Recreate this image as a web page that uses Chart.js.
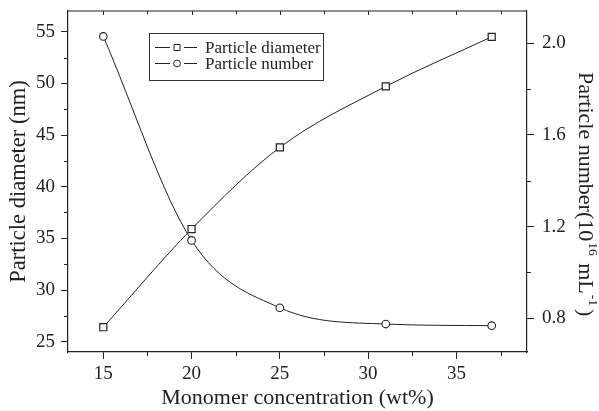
<!DOCTYPE html>
<html>
<head>
<meta charset="utf-8">
<script src="https://cdn.jsdelivr.net/npm/chart.js@4.4.1/dist/chart.umd.min.js"></script>
<style>
  html, body { margin: 0; padding: 0; background: #fff; }
  #wrap { width: 599px; height: 411px; }
</style>
</head>
<body>
<div id="wrap"><canvas id="grafik"></canvas></div>
<script>
// data
const concentration = [15, 20, 25, 31, 37];
const diameter = [26.4, 35.9, 43.8, 49.7, 54.5];
const particleNumber = [2.03, 1.14, 0.846, 0.775, 0.768];
const xTicks = [15, 20, 25, 30, 35];
const leftTicks = [25, 30, 35, 40, 45, 50, 55];
const rightTicks = [0.8, 1.2, 1.6, 2.0];
const seriesNames = ['Particle diameter', 'Particle number'];

const FONT = '"Liberation Serif", "Times New Roman", serif';
const INK = '#222';

function toPoints(xs, ys) {
    return xs.map(function(x, i) { return { x: x, y: ys[i] }; });
}

// keep the plot box fixed, no extra label padding
function noPad(s) {
    s.paddingTop = 0;
    s.paddingBottom = 0;
    s.paddingLeft = 0;
    s.paddingRight = 0;
}

// minor ticks, top border with inward ticks, boxed legend, right title
const decor = {
    id: 'decor',
    afterDraw: function(chart) {
        const ctx = chart.ctx;
        const a = chart.chartArea;
        const sx = chart.scales.x, sy = chart.scales.y, sy2 = chart.scales.y2;
        ctx.save();
        ctx.strokeStyle = INK;
        ctx.lineWidth = 1.2;
        // top border
        ctx.beginPath();
        ctx.moveTo(a.left, a.top);
        ctx.lineTo(a.right, a.top);
        ctx.stroke();
        ctx.lineWidth = 1;
        ctx.beginPath();
        // x minor ticks (bottom, outward) + all top ticks (inward)
        for (let v = 15; v <= 37.5; v += 2.5) {
            const px = Math.round(sx.getPixelForValue(v)) + 0.5;
            if (v % 5 !== 0) {
                ctx.moveTo(px, a.bottom);
                ctx.lineTo(px, a.bottom + 4);
            }
            ctx.moveTo(px, a.top);
            ctx.lineTo(px, a.top + (v % 5 === 0 ? 4 : 3));
        }
        // left minor ticks
        for (let v = 27.5; v < 57; v += 5) {
            const py = Math.round(sy.getPixelForValue(v)) + 0.5;
            ctx.moveTo(a.left, py);
            ctx.lineTo(a.left - 4, py);
        }
        // right minor ticks
        for (let v = 1.0; v < 2.1; v += 0.4) {
            const py = Math.round(sy2.getPixelForValue(v)) + 0.5;
            ctx.moveTo(a.right, py);
            ctx.lineTo(a.right + 4, py);
        }
        ctx.stroke();

        // legend box
        const bx = a.left + 81, by = a.top + 22, bw = 174, bh = 47;
        ctx.lineWidth = 1;
        ctx.strokeStyle = '#333';
        ctx.strokeRect(bx + 0.5, by + 0.5, bw, bh);
        ctx.font = '17px ' + FONT;
        ctx.textBaseline = 'middle';
        chart.data.datasets.forEach(function(ds, i) {
            const ly = by + 14 + i * 16 + 0.5;
            const mx = bx + 28;
            ctx.strokeStyle = INK;
            ctx.beginPath();
            ctx.moveTo(bx + 6, ly);
            ctx.lineTo(mx - 7, ly);
            ctx.moveTo(mx + 7, ly);
            ctx.lineTo(bx + 48, ly);
            ctx.stroke();
            ctx.fillStyle = '#fff';
            ctx.beginPath();
            if (ds.pointStyle === 'rect') {
                ctx.rect(mx - 3, ly - 3, 6, 6);
            } else {
                ctx.arc(mx, ly, 3.4, 0, Math.PI * 2);
            }
            ctx.fill();
            ctx.stroke();
            ctx.fillStyle = INK;
            ctx.fillText(seriesNames[i], bx + 56, ly + 1);
        });

        // right axis title with superscripts, rotated clockwise
        ctx.translate(a.right + 60, a.top + 61);
        ctx.rotate(Math.PI / 2);
        const parts = [
            ['Particle number(10', 0, 1],
            ['16', 1, 2],
            [' mL', 0, 1],
            ['-1', 1, 3],
            [')', 0, 0]
        ];
        let cx = 0;
        ctx.textBaseline = 'alphabetic';
        ctx.fillStyle = INK;
        parts.forEach(function(p) {
            ctx.font = (p[1] ? '13.5px ' : '22px ') + FONT;
            ctx.fillText(p[0], cx, p[1] ? -2 : 8);
            cx += ctx.measureText(p[0]).width + p[2];
        });
        ctx.restore();
    }
};

const ctx = document.getElementById('grafik').getContext('2d');
const myChart = new Chart(ctx, {
    type: 'scatter',
    data: {
        datasets: [{
            label: seriesNames[0],
            data: toPoints(concentration, diameter),
            yAxisID: 'y',
            showLine: true,
            cubicInterpolationMode: 'monotone',
            borderColor: INK,
            borderWidth: 1,
            pointStyle: 'rect',
            pointRadius: 5,
            pointBorderWidth: 1.2,
            pointBackgroundColor: '#fff',
            pointBorderColor: INK
        }, {
            label: seriesNames[1],
            data: toPoints(concentration, particleNumber),
            yAxisID: 'y2',
            showLine: true,
            cubicInterpolationMode: 'monotone',
            borderColor: INK,
            borderWidth: 1,
            pointStyle: 'circle',
            pointRadius: 3.8,
            pointBorderWidth: 1.1,
            pointBackgroundColor: '#fff',
            pointBorderColor: INK
        }]
    },
    options: {
        responsive: true,
        maintainAspectRatio: false,
        animation: false,
        layout: { padding: { top: 11, right: 0, bottom: 0, left: 0 } },
        plugins: {
            legend: { display: false },
            tooltip: { enabled: false }
        },
        scales: {
            x: {
                type: 'linear',
                min: 13,
                max: 39,
                afterBuildTicks: function(s) { s.ticks = xTicks.map(function(v) { return { value: v }; }); },
                afterFit: function(s) { s.height = 59; noPad(s); },
                border: { color: INK, width: 1.2 },
                grid: { drawOnChartArea: false, tickLength: 7, color: INK, tickWidth: 1 },
                ticks: { color: INK, font: { family: FONT, size: 19 }, padding: 4 },
                title: {
                    display: true,
                    text: 'Monomer concentration (wt%)',
                    color: INK,
                    font: { family: FONT, size: 22 },
                    padding: { top: 0, bottom: 0 }
                }
            },
            y: {
                position: 'left',
                min: 24,
                max: 57,
                afterBuildTicks: function(s) { s.ticks = leftTicks.map(function(v) { return { value: v }; }); },
                afterFit: function(s) { s.width = 68; noPad(s); },
                border: { color: INK, width: 1.2 },
                grid: { drawOnChartArea: false, tickLength: 7, color: INK, tickWidth: 1 },
                ticks: { color: INK, font: { family: FONT, size: 19 }, padding: 6 },
                title: {
                    display: true,
                    text: 'Particle diameter (nm)',
                    color: INK,
                    font: { family: FONT, size: 22.5 },
                    padding: { top: 6, bottom: 0 }
                }
            },
            y2: {
                position: 'right',
                min: 0.653,
                max: 2.141,
                afterBuildTicks: function(s) { s.ticks = rightTicks.map(function(v) { return { value: v }; }); },
                afterFit: function(s) { s.width = 72; noPad(s); },
                border: { color: INK, width: 1.2 },
                grid: { drawOnChartArea: false, tickLength: 7, color: INK, tickWidth: 1 },
                ticks: {
                    color: INK,
                    font: { family: FONT, size: 19 },
                    padding: 8,
                    callback: function(v) { return v.toFixed(1); }
                }
            }
        }
    },
    plugins: [decor]
});
</script>
</body>
</html>
